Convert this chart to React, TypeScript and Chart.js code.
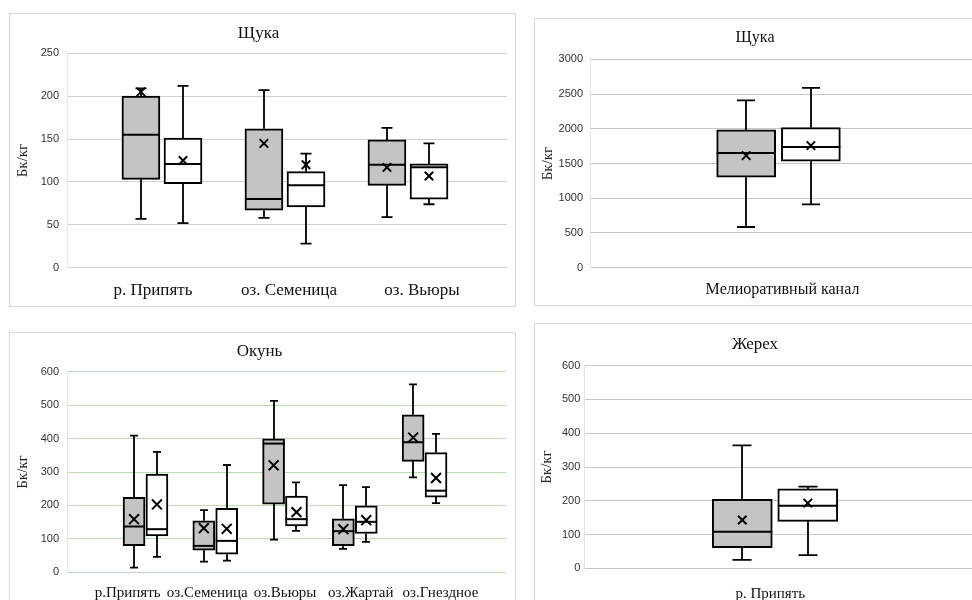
import { useEffect, useRef } from "react";
import { Chart, registerables } from "chart.js";

Chart.register(...registerables);

// ---------- Щука (river / lakes) ----------
const pikeCategories = ["р. Припять", "оз. Семеница", "оз. Вьюры"];
const pikeTicks = [0, 50, 100, 150, 200, 250];
const pikeGreyMin = [57, 58, 59];
const pikeGreyQ1 = [103, 67, 96];
const pikeGreyMedian = [155, 80, 120];
const pikeGreyQ3 = [200, 162, 149];
const pikeGreyMax = [209, 207, 163];
const pikeGreyMean = [205, 145, 117];
const pikeWhiteMin = [52, 28, 74];
const pikeWhiteQ1 = [98, 71, 80];
const pikeWhiteMedian = [121, 96, 117];
const pikeWhiteQ3 = [151, 112, 121];
const pikeWhiteMax = [212, 133, 145];
const pikeWhiteMean = [125, 120, 107];

// ---------- Щука (Мелиоративный канал) ----------
const canalCategories = ["Мелиоративный канал"];
const canalTicks = [0, 500, 1000, 1500, 2000, 2500, 3000];
const canalGreyMin = [586];
const canalGreyQ1 = [1302];
const canalGreyMedian = [1652];
const canalGreyQ3 = [1983];
const canalGreyMax = [2410];
const canalGreyMean = [1613];
const canalWhiteMin = [913];
const canalWhiteQ1 = [1532];
const canalWhiteMedian = [1738];
const canalWhiteQ3 = [2016];
const canalWhiteMax = [2588];
const canalWhiteMean = [1757];

// ---------- Окунь ----------
const perchCategories = ["р.Припять", "оз.Семеница", "оз.Вьюры", "оз.Жартай", "оз.Гнездное"];
const perchTicks = [0, 100, 200, 300, 400, 500, 600];
const perchGreyMin = [14, 32, 98, 70, 284];
const perchGreyQ1 = [80, 66, 204, 80, 332];
const perchGreyMedian = [137, 79, 385, 123, 389];
const perchGreyQ3 = [224, 154, 399, 160, 471];
const perchGreyMax = [409, 186, 513, 261, 562];
const perchGreyMean = [159, 132, 320, 129, 403];
const perchWhiteMin = [46, 35, 124, 91, 207];
const perchWhiteQ1 = [109, 54, 139, 116, 225];
const perchWhiteMedian = [129, 94, 159, 151, 244];
const perchWhiteQ3 = [294, 191, 228, 199, 358];
const perchWhiteMax = [360, 321, 269, 255, 414];
const perchWhiteMean = [203, 130, 180, 156, 282];

// ---------- Жерех ----------
const aspCategories = ["р. Припять"];
const aspTicks = [0, 100, 200, 300, 400, 500, 600];
const aspGreyMin = [25];
const aspGreyQ1 = [61];
const aspGreyMedian = [108];
const aspGreyQ3 = [204];
const aspGreyMax = [364];
const aspGreyMean = [143];
const aspWhiteMin = [39];
const aspWhiteQ1 = [139];
const aspWhiteMedian = [185];
const aspWhiteQ3 = [235];
const aspWhiteMax = [242];
const aspWhiteMean = [193];

type Series = { min: number[]; q1: number[]; median: number[]; q3: number[]; max: number[]; mean: number[] };

type PanelCfg = {
  left: number; top: number; width: number; height: number; border: string;
  title: string; titleSize: number; titleY: number;
  yTitleX: number;
  categories: string[]; labelShift: number[]; catSize: number; catY: number;
  ticks: number[];
  grey: Series; white: Series;
  plotLeft: number; plotRight: number; plotTop: number; plotBottom: number;
  xMin: number; xMax: number; boxOffset: number; barWidth: number; capWidth: number;
  markRadius: number; gridColor: string; edgeColor: string; tickPad: number;
};

const SERIF = "'Liberation Serif', 'Times New Roman', serif";

function BoxPanel({ cfg }: { cfg: PanelCfg }) {
  const ref = useRef<HTMLCanvasElement | null>(null);
  useEffect(() => {
    const c = cfg;
    const boxes: [Series, number][] = [[c.grey, -1], [c.white, 1]];
    const xOf = (i: number, sign: number) => i + sign * c.boxOffset;

    const extras = {
      id: "boxExtras",
      beforeDatasetsDraw(chart: any) {
        const { ctx } = chart;
        const xs = chart.scales.x;
        const ys = chart.scales.y;
        ctx.save();
        ctx.strokeStyle = "#000";
        ctx.lineWidth = 1.8;
        ctx.lineCap = "butt";
        for (const [s, sign] of boxes) {
          s.min.forEach((mn, i) => {
            const px = Math.round(xs.getPixelForValue(xOf(i, sign)));
            const pMin = ys.getPixelForValue(mn);
            const pQ1 = ys.getPixelForValue(s.q1[i]);
            const pQ3 = ys.getPixelForValue(s.q3[i]);
            const pMax = ys.getPixelForValue(s.max[i]);
            ctx.beginPath();
            ctx.moveTo(px, pMin); ctx.lineTo(px, pQ1);
            ctx.moveTo(px, pQ3); ctx.lineTo(px, pMax);
            ctx.moveTo(px - c.capWidth / 2, pMin); ctx.lineTo(px + c.capWidth / 2, pMin);
            ctx.moveTo(px - c.capWidth / 2, pMax); ctx.lineTo(px + c.capWidth / 2, pMax);
            ctx.stroke();
          });
        }
        ctx.restore();
      },
      afterDatasetDraw(chart: any, args: any) {
        if (args.index < 2) return;
        const [s, sign] = boxes[args.index - 2];
        const { ctx } = chart;
        const xs = chart.scales.x;
        const ys = chart.scales.y;
        ctx.save();
        ctx.strokeStyle = "#000";
        ctx.lineWidth = 2;
        s.median.forEach((md, i) => {
          const px = xs.getPixelForValue(xOf(i, sign));
          const py = ys.getPixelForValue(md);
          ctx.beginPath();
          ctx.moveTo(px - c.barWidth / 2, py);
          ctx.lineTo(px + c.barWidth / 2, py);
          ctx.stroke();
        });
        ctx.restore();
      },
    };

    const meanSet = (s: Series, sign: number) => ({
      type: "scatter" as const,
      data: s.mean.map((m, i) => ({ x: xOf(i, sign), y: m })),
      pointStyle: "crossRot",
      pointRadius: c.markRadius,
      pointBorderWidth: 2,
      borderColor: "#000",
      backgroundColor: "#000",
      showLine: false,
    });
    const boxSet = (s: Series, sign: number, fill: string) => ({
      type: "bar" as const,
      data: s.q1.map((q, i) => ({ x: xOf(i, sign), y: [q, s.q3[i]] })),
      backgroundColor: fill,
      borderColor: "#000",
      borderWidth: 2,
      borderSkipped: false,
      barThickness: c.barWidth,
      grouped: false,
    });

    const titleLH = c.titleSize * 1.2;
    const titlePadTop = c.titleY - titleLH / 2;
    const titlePadBottom = c.plotTop - titlePadTop - titleLH;
    const yTitleSize = 15;
    const yTitleLH = yTitleSize * 1.2;
    const labelPositions = c.categories.map((_, i) => i + c.labelShift[i]);

    const chart = new Chart(ref.current as HTMLCanvasElement, {
      type: "bar",
      data: {
        datasets: [
          meanSet(c.grey, -1),
          meanSet(c.white, 1),
          boxSet(c.grey, -1, "#c4c4c4"),
          boxSet(c.white, 1, "#ffffff"),
        ] as any,
      },
      options: {
        responsive: false,
        animation: false,
        devicePixelRatio: 1,
        layout: { padding: { left: 0, right: c.width - c.plotRight, top: 0, bottom: 0 } },
        plugins: {
          legend: { display: false },
          tooltip: { enabled: false },
          title: {
            display: true,
            text: c.title,
            color: "#111",
            font: { family: SERIF, size: c.titleSize, weight: "normal" as any },
            padding: { top: titlePadTop, bottom: titlePadBottom },
          },
        },
        scales: {
          x: {
            type: "linear",
            offset: false,
            min: c.xMin,
            max: c.xMax,
            grid: { display: false, offset: false },
            border: { display: false },
            afterBuildTicks: (scale: any) => {
              scale.ticks = labelPositions.map((v) => ({ value: v }));
            },
            afterFit: (scale: any) => {
              scale.height = c.height - c.plotBottom;
            },
            ticks: {
              autoSkip: false,
              maxRotation: 0,
              minRotation: 0,
              padding: c.catY - c.plotBottom - c.catSize,
              color: "#111",
              font: { family: SERIF, size: c.catSize },
              callback: (_v: any, idx: number) => c.categories[idx],
            },
          },
          y: {
            type: "linear",
            min: c.ticks[0],
            max: c.ticks[c.ticks.length - 1],
            grid: { color: c.gridColor, lineWidth: 1, drawTicks: false },
            border: { display: true, color: c.edgeColor, width: 1 },
            afterFit: (scale: any) => {
              scale.width = c.plotLeft;
            },
            ticks: {
              stepSize: c.ticks[1] - c.ticks[0],
              padding: c.tickPad,
              color: "#333333",
              font: { family: "'Liberation Sans', Arial, sans-serif", size: 11 },
              callback: (v: any) => String(v),
            },
            title: {
              display: true,
              text: "Бк/кг",
              color: "#222",
              font: { family: SERIF, size: yTitleSize },
              padding: { top: c.yTitleX - yTitleLH / 2, bottom: 0 },
            },
          },
        },
      } as any,
      plugins: [extras],
    });
    return () => chart.destroy();
  }, [cfg]);

  return (
    <div
      style={{
        position: "absolute",
        left: cfg.left,
        top: cfg.top,
        width: cfg.width,
        height: cfg.height,
        border: `1px solid ${cfg.border}`,
        background: "#fff",
      }}
    >
      <canvas
        ref={ref}
        width={cfg.width}
        height={cfg.height}
        style={{ display: "block", width: cfg.width, height: cfg.height }}
      />
    </div>
  );
}

const pikePanel: PanelCfg = {
  left: 9, top: 13, width: 505, height: 292, border: "#d6d6d6",
  title: "Щука", titleSize: 17, titleY: 19.5, yTitleX: 13.5,
  categories: pikeCategories, labelShift: [-0.073, 0.033, 0.114], catSize: 17, catY: 275,
  ticks: pikeTicks,
  grey: { min: pikeGreyMin, q1: pikeGreyQ1, median: pikeGreyMedian, q3: pikeGreyQ3, max: pikeGreyMax, mean: pikeGreyMean },
  white: { min: pikeWhiteMin, q1: pikeWhiteQ1, median: pikeWhiteMedian, q3: pikeWhiteQ3, max: pikeWhiteMax, mean: pikeWhiteMean },
  plotLeft: 57, plotRight: 497, plotTop: 39.3, plotBottom: 253.7,
  xMin: -0.772, xMax: 2.805, boxOffset: 0.171, barWidth: 38, capWidth: 11,
  markRadius: 6, gridColor: "#d0d0d0", edgeColor: "#e8e8e8", tickPad: 8,
};

const canalPanel: PanelCfg = {
  left: 534, top: 18, width: 445, height: 286, border: "#d6d6d6",
  title: "Щука", titleSize: 16, titleY: 18.5, yTitleX: 13.5,
  categories: canalCategories, labelShift: [0.04], catSize: 16, catY: 269,
  ticks: canalTicks,
  grey: { min: canalGreyMin, q1: canalGreyQ1, median: canalGreyMedian, q3: canalGreyQ3, max: canalGreyMax, mean: canalGreyMean },
  white: { min: canalWhiteMin, q1: canalWhiteQ1, median: canalWhiteMedian, q3: canalWhiteQ3, max: canalWhiteMax, mean: canalWhiteMean },
  plotLeft: 55, plotRight: 440, plotTop: 40.3, plotBottom: 248.7,
  xMin: -1.9, xMax: 1.95, boxOffset: 0.326, barWidth: 59, capWidth: 18,
  markRadius: 6, gridColor: "#c6c6c6", edgeColor: "#e4e4e4", tickPad: 7,
};

const perchPanel: PanelCfg = {
  left: 9, top: 332, width: 505, height: 280, border: "#cfe3c8",
  title: "Окунь", titleSize: 17, titleY: 18.5, yTitleX: 13.5,
  categories: perchCategories, labelShift: [-0.256, -0.114, 0, 0.085, 0.228], catSize: 15, catY: 257.7,
  ticks: perchTicks,
  grey: { min: perchGreyMin, q1: perchGreyQ1, median: perchGreyMedian, q3: perchGreyQ3, max: perchGreyMax, mean: perchGreyMean },
  white: { min: perchWhiteMin, q1: perchWhiteQ1, median: perchWhiteMedian, q3: perchWhiteQ3, max: perchWhiteMax, mean: perchWhiteMean },
  plotLeft: 57, plotRight: 499, plotTop: 38.7, plotBottom: 239.3,
  xMin: -1.125, xMax: 5.167, boxOffset: 0.164, barWidth: 22, capWidth: 8,
  markRadius: 7, gridColor: "#b9ddb0", edgeColor: "#dcecd6", tickPad: 8,
};

const aspPanel: PanelCfg = {
  left: 534, top: 323, width: 445, height: 290, border: "#d6d6d6",
  title: "Жерех", titleSize: 17, titleY: 20.5, yTitleX: 12,
  categories: aspCategories, labelShift: [-0.048], catSize: 15, catY: 268,
  ticks: aspTicks,
  grey: { min: aspGreyMin, q1: aspGreyQ1, median: aspGreyMedian, q3: aspGreyQ3, max: aspGreyMax, mean: aspGreyMean },
  white: { min: aspWhiteMin, q1: aspWhiteQ1, median: aspWhiteMedian, q3: aspWhiteQ3, max: aspWhiteMax, mean: aspWhiteMean },
  plotLeft: 49.3, plotRight: 440, plotTop: 41.7, plotBottom: 244.3,
  xMin: -1.922, xMax: 1.985, boxOffset: 0.33, barWidth: 60, capWidth: 19,
  markRadius: 6, gridColor: "#c6c6c6", edgeColor: "#e4e4e4", tickPad: 4,
};

export default function App() {
  return (
    <div
      style={{
        position: "absolute",
        left: 0,
        top: 0,
        width: 972,
        height: 600,
        overflow: "hidden",
        background: "#fff",
      }}
    >
      <BoxPanel cfg={pikePanel} />
      <BoxPanel cfg={canalPanel} />
      <BoxPanel cfg={perchPanel} />
      <BoxPanel cfg={aspPanel} />
    </div>
  );
}
